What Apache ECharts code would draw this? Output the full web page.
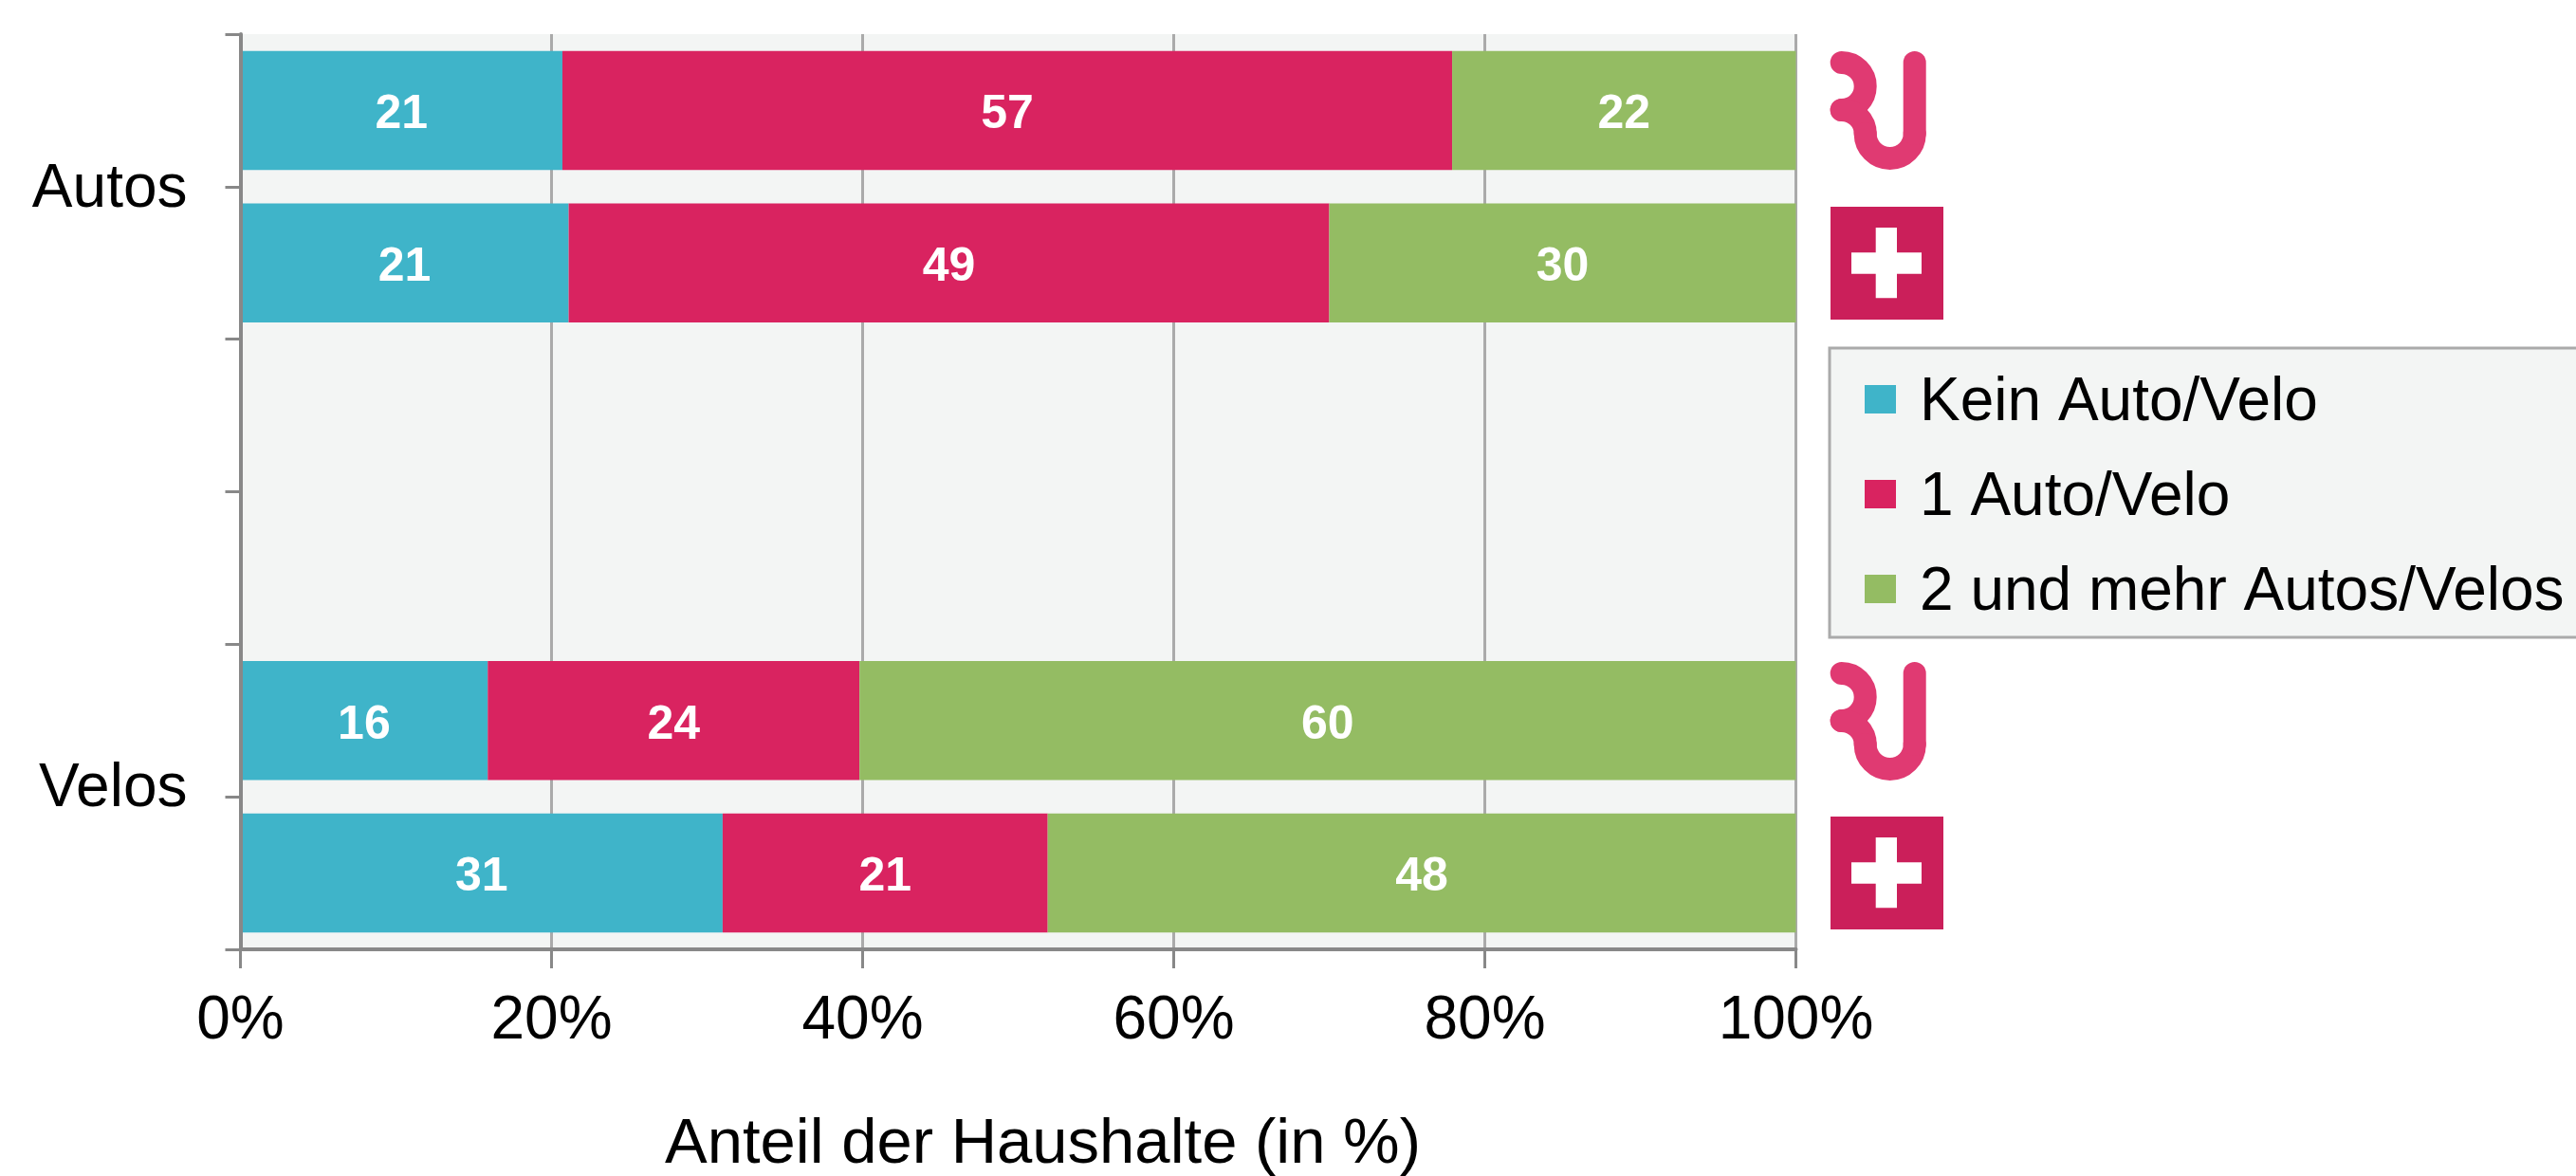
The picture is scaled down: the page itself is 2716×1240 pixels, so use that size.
<!DOCTYPE html>
<html><head><meta charset="utf-8">
<style>html,body{margin:0;padding:0;background:#fff}#c{width:2716px;height:1240px}</style>
<script src="https://cdn.jsdelivr.net/npm/echarts@6/dist/echarts.min.js"></script>
</head><body><div id="c"></div>
<script>
const rows = ['Autos R', 'Autos CH', '', ' ', 'Velos R', 'Velos CH'];
const seriesNames = ['Kein Auto/Velo', '1 Auto/Velo', '2 und mehr Autos/Velos'];
const none = [20.7, 21.1, null, null, 15.9, 31.0];
const one = [57.2, 48.9, null, null, 23.9, 20.9];
const twoPlus = [22.1, 30.0, null, null, 60.2, 48.1];
const groupLabels = ['Autos', 'Velos'];
const groupPositions = [1.02, 4.95];
const xTicks = [0, 20, 40, 60, 80, 100];
const colors = ['#3fb4c9', '#d92360', '#94bc63'];
const FONT = '"Liberation Sans", Arial, sans-serif';

function logo(dy) {
  const st = { fill: 'none', stroke: '#e03a72', lineWidth: 24, lineCap: 'round' };
  const arc = (cx, cy, r, a, b) => ({ type: 'arc', z: 5,
    shape: { cx, cy: cy + dy, r, startAngle: a, endAngle: b, clockwise: true }, style: st });
  const P = Math.PI;
  return [
    arc(1941.7, 735, 25, -P / 2, P / 2),
    arc(1941.7, 785, 25, -P / 2, 0),
    arc(1992.7, 785, 26, 0, P),
    { type: 'line', z: 5, shape: { x1: 2018.7, y1: 785 + dy, x2: 2018.7, y2: 710 + dy }, style: st }
  ];
}
function flag(dy) {
  return [
    { type: 'rect', z: 5, shape: { x: 1930, y: 861+dy, width: 119, height: 119 }, style: { fill: '#cb1f5a' } },
    { type: 'rect', z: 6, shape: { x: 1977.7, y: 883+dy, width: 22.3, height: 74.3 }, style: { fill: '#fff' } },
    { type: 'rect', z: 6, shape: { x: 1952, y: 909.3+dy, width: 74, height: 22.4 }, style: { fill: '#fff' } }
  ];
}

const chart = echarts.init(document.getElementById('c'), null, { renderer: 'canvas' });
chart.setOption({
  animation: false,
  backgroundColor: '#fff',
  textStyle: { fontFamily: FONT },
  grid: { left: 253.5, top: 36, width: 1640, height: 965, containLabel: false, outerBoundsMode: 'none', show: true,
          backgroundColor: '#f3f5f4', borderWidth: 0 },
  legend: { orient: 'vertical', left: 1966, top: 385, padding: 0, itemWidth: 33, itemHeight: 30, itemGap: 28,
    icon: 'rect', selectedMode: false, data: seriesNames,
    formatter: n => '{t|' + n + '}',
    textStyle: { fontFamily: FONT, fontSize: 64, color: '#000', padding: [0, 0, 0, 20],
      rich: { t: { fontFamily: FONT, fontSize: 64, lineHeight: 64, color: '#000', padding: [8, 0, 0, 0] } } } },
  xAxis: { type: 'value', min: 0, max: 100, interval: 20,
    name: 'Anteil der Haushalte (in %)', nameLocation: 'middle', nameGap: 173,
    nameTextStyle: { fontFamily: FONT, fontSize: 67, color: '#000', padding: [0, 0, 0, 52] },
    axisLine: { show: true, onZero: false, lineStyle: { color: '#888', width: 4 } },
    axisTick: { show: true, length: 20, lineStyle: { color: '#888', width: 3 } },
    axisLabel: { margin: 44, fontSize: 64, color: '#000', fontFamily: FONT,
      formatter: v => xTicks.includes(v) ? v + '%' : '' },
    splitLine: { show: true, lineStyle: { color: '#aaa', width: 3 } } },
  yAxis: [
    { type: 'category', data: rows, inverse: true, z: 3,
      axisLine: { show: true, onZero: false, lineStyle: { color: '#888', width: 4 } },
      axisTick: { show: true, length: 16, lineStyle: { color: '#888', width: 3 } },
      axisLabel: { show: false }, splitLine: { show: false } },
    { type: 'value', inverse: true, min: 0, max: 6, position: 'left',
      axisLine: { show: false }, axisTick: { show: false }, splitLine: { show: false },
      axisLabel: { show: true, customValues: groupPositions, margin: 56, fontSize: 64, color: '#000', fontFamily: FONT,
        formatter: v => groupLabels[groupPositions.indexOf(v)] } }
  ],
  series: [none, one, twoPlus].map((d, i) => ({
    name: seriesNames[i], type: 'bar', stack: 'total', data: d, barCategoryGap: '22%',
    itemStyle: { color: colors[i] },
    label: { show: true, position: 'inside', offset: [0, 5], color: '#fff', fontFamily: FONT, fontWeight: 'bold', fontSize: 50,
      formatter: p => p.value == null ? '' : String(Math.round(p.value)) }
  })),
  graphic: [
    { type: 'rect', z: -1, shape: { x: 1929, y: 367, width: 900, height: 305 },
      style: { fill: '#f3f5f4', stroke: '#aaa', lineWidth: 3 } }
  ].concat(logo(-644), logo(0), flag(-643), flag(0))
});
</script></body></html>
